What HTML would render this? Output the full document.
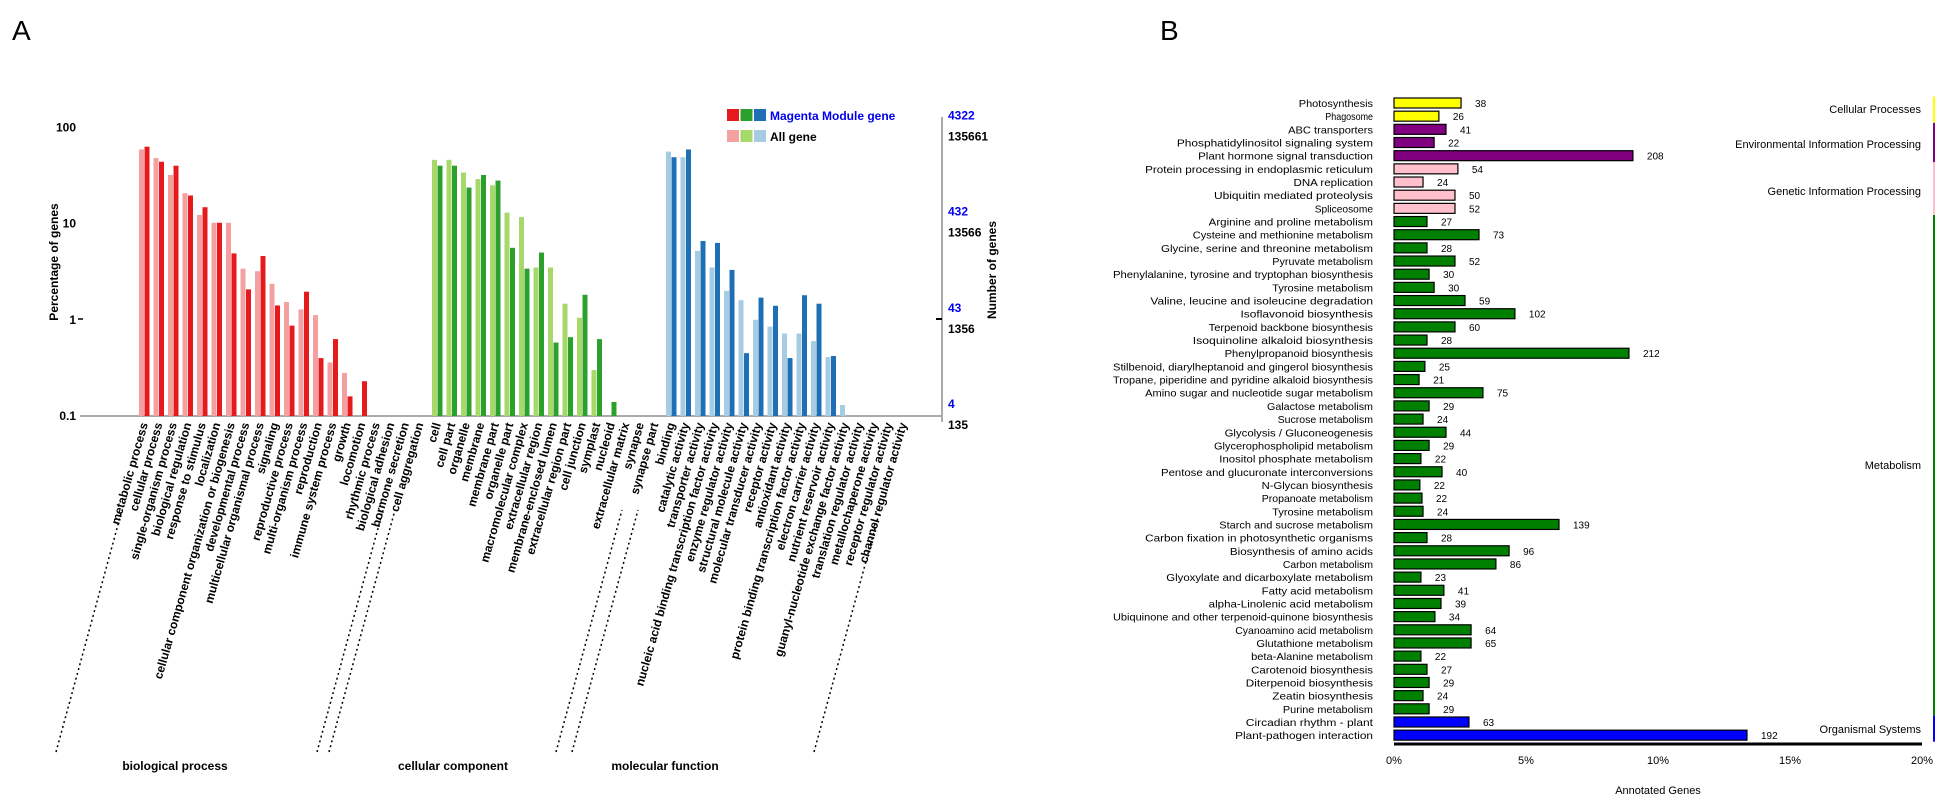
<!DOCTYPE html>
<html><head><meta charset="utf-8"><style>
html,body{margin:0;padding:0;background:#fff;}
svg{display:block;font-family:"Liberation Sans",sans-serif;}
</style></head><body>
<svg id="fig" width="1949" height="810" viewBox="0 0 1949 810">
<text x="12" y="40" font-size="28">A</text>
<text x="1160" y="40" font-size="28">B</text>
<g id="pa"></g>
<g id="pb"></g>
</svg>
<script>
// ===== Panel A data (GO) =====
const bpCats=["metabolic process","cellular process","single-organism process","biological regulation","response to stimulus","localization","cellular component organization or biogenesis","developmental process","multicellular organismal process","signaling","reproductive process","multi-organism process","reproduction","immune system process","growth","locomotion","rhythmic process","biological adhesion","hormone secretion","cell aggregation"];
const bpAll=[59,48,32,20.7,12.3,10.2,10.2,3.4,3.2,2.37,1.53,1.28,1.12,0.36,0.28,0,0,0,0,0];
const bpMod=[63,44,40,19.6,14.8,10.2,4.9,2.07,4.6,1.41,0.87,1.96,0.40,0.63,0.16,0.23,0,0,0,0];
const ccCats=["cell","cell part","organelle","membrane","membrane part","organelle part","macromolecular complex","extracellular region","membrane-enclosed lumen","extracellular region part","cell junction","symplast","nucleoid","extracellular matrix","synapse","synapse part"];
const ccAll=[46,46,34,29,25,13,11.7,3.5,3.5,1.47,1.05,0.30,0,0,0,0];
const ccMod=[40,40,23.7,32,28,5.6,3.4,5.0,0.58,0.66,1.82,0.63,0.14,0,0,0];
const mfCats=["binding","catalytic activity","transporter activity","nucleic acid binding transcription factor activity","enzyme regulator activity","structural molecule activity","molecular transducer activity","receptor activity","antioxidant activity","protein binding transcription factor activity","electron carrier activity","nutrient reservoir activity","guanyl-nucleotide exchange factor activity","translation regulator activity","metallochaperone activity","receptor regulator activity","channel regulator activity"];
const mfAll=[56,49,5.2,3.5,2.0,1.6,1.0,0.85,0.72,0.72,0.6,0.41,0.13,0,0,0,0];
const mfMod=[49,59,6.6,6.3,3.3,0.45,1.7,1.4,0.40,1.8,1.47,0.42,0,0,0,0,0];
const yTicksA=[100,10,1,0.1];
const rightBlue=["4322","432","43","4"];
const rightBlack=["135661","13566","1356","135"];

// ===== Panel B data (KEGG) =====
const keggCats=["Photosynthesis","Phagosome","ABC transporters","Phosphatidylinositol signaling system","Plant hormone signal transduction","Protein processing in endoplasmic reticulum","DNA replication","Ubiquitin mediated proteolysis","Spliceosome","Arginine and proline metabolism","Cysteine and methionine metabolism","Glycine, serine and threonine metabolism","Pyruvate metabolism","Phenylalanine, tyrosine and tryptophan biosynthesis","Tyrosine metabolism","Valine, leucine and isoleucine degradation","Isoflavonoid biosynthesis","Terpenoid backbone biosynthesis","Isoquinoline alkaloid biosynthesis","Phenylpropanoid biosynthesis","Stilbenoid, diarylheptanoid and gingerol biosynthesis","Tropane, piperidine and pyridine alkaloid biosynthesis","Amino sugar and nucleotide sugar metabolism","Galactose metabolism","Sucrose metabolism","Glycolysis / Gluconeogenesis","Glycerophospholipid metabolism","Inositol phosphate metabolism","Pentose and glucuronate interconversions","N-Glycan biosynthesis","Propanoate metabolism","Tyrosine metabolism","Starch and sucrose metabolism","Carbon fixation in photosynthetic organisms","Biosynthesis of amino acids","Carbon metabolism","Glyoxylate and dicarboxylate metabolism","Fatty acid metabolism","alpha-Linolenic acid metabolism","Ubiquinone and other terpenoid-quinone biosynthesis","Cyanoamino acid metabolism","Glutathione metabolism","beta-Alanine metabolism","Carotenoid biosynthesis","Diterpenoid biosynthesis","Zeatin biosynthesis","Purine metabolism","Circadian rhythm - plant","Plant-pathogen interaction"];
const keggPct=[2.54,1.70,1.97,1.52,9.05,2.42,1.10,2.31,2.31,1.25,3.22,1.25,2.31,1.33,1.52,2.69,4.58,2.31,1.25,8.9,1.17,0.95,3.37,1.33,1.10,1.97,1.33,1.02,1.82,0.98,1.06,1.10,6.25,1.25,4.36,3.86,1.02,1.89,1.78,1.55,2.92,2.92,1.02,1.25,1.33,1.10,1.33,2.84,13.37];
const keggCount=["38","26","41","22","208","54","24","50","52","27","73","28","52","30","30","59","102","60","28","212","25","21","75","29","24","44","29","22","40","22","22","24","139","28","96","86","23","41","39","34","64","65","22","27","29","24","29","63","192"];
const keggGroup=[0,0,1,1,1,2,2,2,2,3,3,3,3,3,3,3,3,3,3,3,3,3,3,3,3,3,3,3,3,3,3,3,3,3,3,3,3,3,3,3,3,3,3,3,3,3,3,4,4];
const groupNames=["Cellular Processes","Environmental Information Processing","Genetic Information Processing","Metabolism","Organismal Systems"];
const groupColors=["#ffff00","#800080","#ffc0cb","#008000","#0000ff"];
const xTicksB=[0,5,10,15,20];

const NS="http://www.w3.org/2000/svg";
function mk(parent,tag,attrs,txt){const e=document.createElementNS(NS,tag);for(const k in attrs)e.setAttribute(k,attrs[k]);if(txt!==undefined)e.textContent=txt;parent.appendChild(e);return e;}

// ----- Panel A -----
const pa=document.getElementById('pa');
const yA=v=>416-(Math.log10(v)+1)*96.2;
let t;
t=mk(pa,'line',{x1:80,y1:416,x2:942,y2:416,stroke:'#aaa','stroke-width':2});


t=mk(pa,'line',{x1:942,y1:117,x2:942,y2:422,stroke:'#aaa','stroke-width':2});


mk(pa,'line',{x1:936,y1:319,x2:942,y2:319,stroke:'#000','stroke-width':2});
yTicksA.forEach(v=>{
  t=mk(pa,'text',{x:76,y:yA(v)+4,'font-size':12,'font-weight':'bold','text-anchor':'end'},String(v));
  
  
});
mk(pa,'line',{x1:78,y1:319,x2:83,y2:319,stroke:'#000','stroke-width':1.5});
t=mk(pa,'text',{x:0,y:0,'font-size':12,'font-weight':'bold','text-anchor':'middle',transform:'translate(58,262) rotate(-90)'},'Percentage of genes');


rightBlue.forEach((s,i)=>{
  t=mk(pa,'text',{x:948,y:yA([100,10,1,0.1][i])-8,'font-size':12,'font-weight':'bold',fill:'#0000ee'},s);
  
  
  t=mk(pa,'text',{x:948,y:yA([100,10,1,0.1][i])+13,'font-size':12,'font-weight':'bold'},rightBlack[i]);
  
  
});
t=mk(pa,'text',{x:0,y:0,'font-size':12,'font-weight':'bold','text-anchor':'middle',transform:'translate(996,270) rotate(-90)'},'Number of genes');


// legend
[['#e41a1c','#f4a0a0'],['#2ca02c','#a6d96a'],['#1f6fb4','#a6cce3']].forEach((c,i)=>{
  t=mk(pa,'rect',{x:727+i*13.5,y:109,width:12,height:12,fill:c[0]});
  
  
  t=mk(pa,'rect',{x:727+i*13.5,y:130,width:12,height:12,fill:c[1]});
  
  
});
t=mk(pa,'text',{x:770,y:120,'font-size':12,'font-weight':'bold',fill:'#0000ee'},'Magenta Module gene');


t=mk(pa,'text',{x:770,y:141,'font-size':12,'font-weight':'bold'},'All gene');



function drawGroup(cats,all,mod,x0,light,dark,name){
  cats.forEach((c,i)=>{
    const x=x0+i*14.5;
    if(all[i]>0){const y=yA(all[i]);
      t=mk(pa,'rect',{x:x,y:y,width:5,height:416-y,fill:light});
      
      }
    if(mod[i]>0){const y=yA(mod[i]);
      t=mk(pa,'rect',{x:x+5.5,y:y,width:5,height:416-y,fill:dark});
      
      }
    t=mk(pa,'text',{x:0,y:0,'font-size':12,'font-weight':'bold','text-anchor':'end',transform:`translate(${x+9},424) rotate(-74)`},c);
    
    
  });
}
drawGroup(bpCats,bpAll,bpMod,139,'#f4a0a0','#e41a1c','bp');
drawGroup(ccCats,ccAll,ccMod,432,'#a6d96a','#2ca02c','cc');
drawGroup(mfCats,mfAll,mfMod,666,'#a6cce3','#1f6fb4','mf');
[56,317,329,556,572,814].forEach(x=>{
  t=mk(pa,'line',{x1:x,y1:752,x2:x+66,y2:510,stroke:'#000','stroke-width':1.5,'stroke-dasharray':'2,3'});
  
  
});
[['biological process',175],['cellular component',453],['molecular function',665]].forEach(g=>{
  t=mk(pa,'text',{x:g[1],y:770,'font-size':12,'font-weight':'bold','text-anchor':'middle'},g[0]);
  
  
});

// ----- Panel B -----
const pb=document.getElementById('pb');
const xB=p=>1394+p*26.4;
const rowY=i=>103+i*13.17;
keggCats.forEach((c,i)=>{
  const y=rowY(i);
  t=mk(pb,'text',{x:1373,y:y+4,'font-size':10.5,'text-anchor':'end',textLength:Math.min(c.length*5.3,260),lengthAdjust:'spacingAndGlyphs'},c);
  
  
  t=mk(pb,'rect',{x:1394,y:y-5,width:xB(keggPct[i])-1394,height:10,fill:groupColors[keggGroup[i]],stroke:'#000','stroke-width':1.2});
  
  
  t=mk(pb,'text',{x:xB(keggPct[i])+14,y:y+4,'font-size':10},keggCount[i]);
  
  
});
t=mk(pb,'line',{x1:1394,y1:744,x2:1922,y2:744,stroke:'#000','stroke-width':3});


xTicksB.forEach(v=>{
  t=mk(pb,'text',{x:xB(v),y:764,'font-size':11,'text-anchor':'middle'},v+'%');
  
  
});
t=mk(pb,'text',{x:1658,y:794,'font-size':11,'text-anchor':'middle'},'Annotated Genes');


groupNames.forEach((g,k)=>{
  const idx=keggGroup.map((v,i)=>v===k?i:-1).filter(i=>i>=0);
  const y0=rowY(idx[0])-6.5,y1=rowY(idx[idx.length-1])+6.5;
  t=mk(pb,'line',{x1:1934,y1:y0,x2:1934,y2:y1,stroke:groupColors[k],'stroke-width':2});
  
  
  const ly=k===4?733:(k===3?(y0+y1)/2+4:[113,148,195][k]);
  t=mk(pb,'text',{x:1921,y:ly,'font-size':11,'text-anchor':'end'},g);
  
  
});
</script>
</body></html>
